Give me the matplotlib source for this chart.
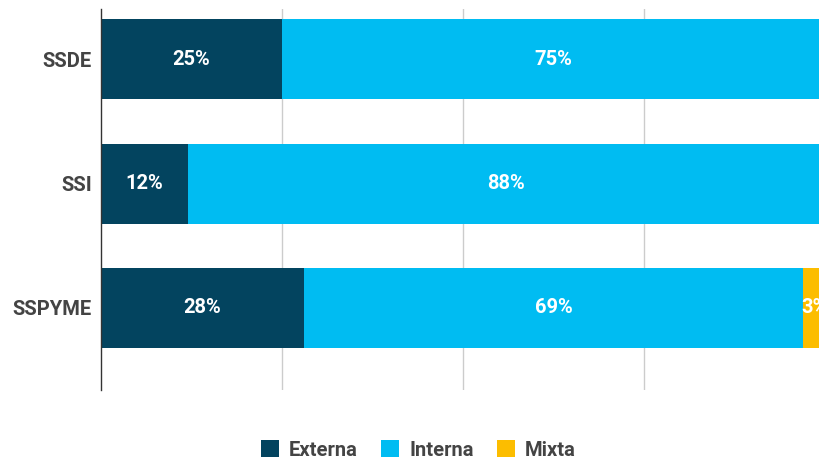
import matplotlib.pyplot as plt
from matplotlib.patches import Patch

plt.rcParams['font.family'] = ['Roboto', 'DejaVu Sans']

categories = ['SSDE', 'SSI', 'SSPYME']
externa = [25, 12, 28]
interna = [75, 88, 69]
mixta = [0, 0, 3]

series = [('Externa', externa, '#03445f'),
          ('Interna', interna, '#00bcf2'),
          ('Mixta', mixta, '#fcbd00')]

W, H = 819, 463
fig = plt.figure(figsize=(W / 100, H / 100), dpi=100)
# axes runs a bit past the right edge, like the cropped original
ax = fig.add_axes([101 / W, (H - 390) / H, 724 / W, 381 / H])

y = list(range(len(categories)))
left = [0] * len(categories)
for name, vals, col in series:
    ax.barh(y, vals, left=left, height=0.644, color=col, zorder=2)
    for yi, v, l in zip(y, vals, left):
        if v > 0:
            ax.text(l + v / 2, yi, f'{v}%', ha='center', va='center',
                    color='white', fontsize=14.5, fontweight='bold', zorder=3)
    left = [a + b for a, b in zip(left, vals)]

ax.set_xlim(0, 100)
ax.set_ylim(2.66, -0.406)
ax.set_xticks([25, 50, 75])
ax.xaxis.grid(True, color='#cccccc', lw=1, zorder=0)
ax.tick_params(axis='x', length=0, labelbottom=False)
ax.set_yticks(y)
ax.set_yticklabels(categories, fontsize=14.5, fontweight='bold', color='#444444')
ax.tick_params(axis='y', length=0, pad=6.5)
for s in ['top', 'right', 'bottom']:
    ax.spines[s].set_visible(False)
ax.spines['left'].set_color('#333333')
ax.spines['left'].set_linewidth(1)
ax.set_facecolor('none')

handles = [Patch(facecolor=c, edgecolor='none', label=n) for n, _, c in series]
fig.legend(handles=handles, loc='center', bbox_to_anchor=(0.511, 1 - 450 / H),
           ncol=3, frameon=False, handlelength=0.9, handleheight=0.9,
           handletextpad=0.5, columnspacing=1.15,
           prop={'size': 14.5, 'weight': 'bold'}, labelcolor='#444444')

fig.savefig('out.png', dpi=100)
